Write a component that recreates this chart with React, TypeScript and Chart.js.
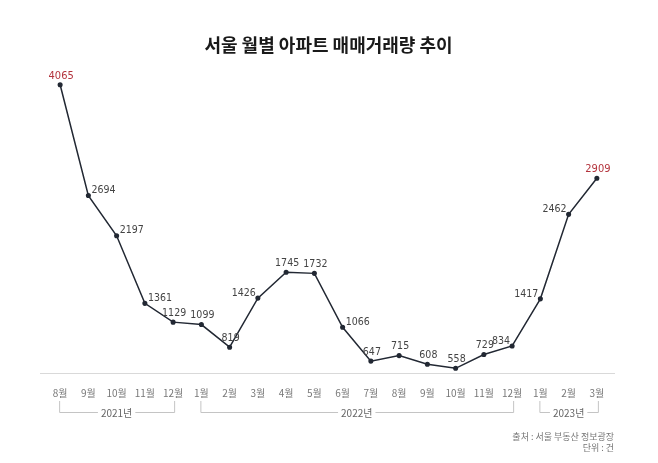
import React, { useEffect, useRef } from "react";
import { Chart, registerables } from "chart.js";

Chart.register(...registerables);

const titleText = "서울 월별 아파트 매매거래량 추이";
const months = ["8월","9월","10월","11월","12월","1월","2월","3월","4월","5월","6월","7월","8월","9월","10월","11월","12월","1월","2월","3월"];
const years = ["2021년","2021년","2021년","2021년","2021년","2022년","2022년","2022년","2022년","2022년","2022년","2022년","2022년","2022년","2022년","2022년","2022년","2023년","2023년","2023년"];
const volumes = [4065, 2694, 2197, 1361, 1129, 1099, 819, 1426, 1745, 1732, 1066, 647, 715, 608, 558, 729, 834, 1417, 2462, 2909];
const sourceLines = ["출처 : 서울 부동산 정보광장", "단위 : 건"];

const FONT = "'Noto Sans CJK KR', 'Noto Sans', sans-serif";
const NUMFONT = "'DejaVu Sans Condensed', 'Noto Sans CJK KR', sans-serif";

// label placement: a = above, r = right, l = left
const placement = ["a","r","r","r","a","a","a","l","a","a","r","a","a","a","a","a","l","l","l","a"];

const overlay = {
  id: "overlay",
  afterDatasetsDraw(chart: any) {
    const ctx = chart.ctx;
    const xs = chart.scales.x;
    const area = chart.chartArea;
    const meta = chart.getDatasetMeta(0);
    ctx.save();
    // axis line
    ctx.strokeStyle = "#d9d9d9";
    ctx.lineWidth = 1.2;
    ctx.beginPath();
    ctx.moveTo(area.left - 6, area.bottom + 0.5);
    ctx.lineTo(area.right + 4, area.bottom + 0.5);
    ctx.stroke();

    // data labels
    const last = volumes.length - 1;
    meta.data.forEach((pt: any, i: number) => {
      const v = volumes[i];
      const hi = i === 0 || i === last;
      ctx.font = `${hi ? 11 : 10.5}px ${NUMFONT}`;
      ctx.fillStyle = hi ? "#b3333c" : "#444";
      ctx.textBaseline = "middle";
      const p = placement[i];
      if (p === "a") {
        ctx.textAlign = "center";
        ctx.fillText(String(v), pt.x + 1, pt.y - 9);
      } else if (p === "r") {
        ctx.textAlign = "left";
        ctx.fillText(String(v), pt.x + 3, pt.y - 5);
      } else {
        ctx.textAlign = "right";
        ctx.fillText(String(v), pt.x - 2, pt.y - 5);
      }
    });

    // year brackets
    const groups: { label: string; s: number; e: number }[] = [];
    years.forEach((y, i) => {
      const g = groups[groups.length - 1];
      if (g && g.label === y) g.e = i;
      else groups.push({ label: y, s: i, e: i });
    });
    const yTop = area.bottom + 28;
    const yLine = area.bottom + 39;
    groups.forEach((g) => {
      const x1 = xs.getPixelForValue(g.s) - 1;
      const x2 = xs.getPixelForValue(g.e) + 1;
      ctx.strokeStyle = "#c4c4c4";
      ctx.lineWidth = 1;
      ctx.beginPath();
      ctx.moveTo(x1 + 0.5, yTop);
      ctx.lineTo(x1 + 0.5, yLine + 0.5);
      ctx.lineTo(x2 + 0.5, yLine + 0.5);
      ctx.lineTo(x2 + 0.5, yTop);
      ctx.stroke();
      const cx = (x1 + x2) / 2;
      ctx.font = `10px ${FONT}`;
      const w = ctx.measureText(g.label).width;
      ctx.fillStyle = "#fff";
      ctx.fillRect(cx - w / 2 - 3, yLine - 5, w + 6, 10);
      ctx.fillStyle = "#666";
      ctx.textAlign = "center";
      ctx.textBaseline = "middle";
      ctx.fillText(g.label, cx, yLine + 1);
    });

    // source
    ctx.font = `9px ${FONT}`;
    ctx.fillStyle = "#777";
    ctx.textAlign = "right";
    ctx.textBaseline = "middle";
    sourceLines.forEach((t, i) => {
      ctx.fillText(t, area.right + 3, area.bottom + 64 + i * 11);
    });
    ctx.restore();
  },
};

export default function App() {
  const ref = useRef<HTMLCanvasElement>(null);
  useEffect(() => {
    document.body.style.margin = "0";
    const chart = new Chart(ref.current!, {
      type: "line",
      data: {
        labels: months,
        datasets: [
          {
            data: volumes,
            borderColor: "#222833",
            backgroundColor: "#222833",
            borderWidth: 1.5,
            pointRadius: 1.8,
            pointHoverRadius: 1.8,
            pointBackgroundColor: "#222833",
            tension: 0,
          },
        ],
      },
      options: {
        animation: false,
        responsive: false,
        layout: { padding: { left: 46, right: 47, top: 0, bottom: 50 } },
        plugins: {
          legend: { display: false },
          tooltip: { enabled: false },
          title: {
            display: true,
            text: titleText,
            color: "#1a1a1a",
            font: { family: FONT, size: 18, weight: "bold" },
            padding: { top: 34, bottom: 2 },
          },
        },
        scales: {
          x: {
            offset: true,
            grid: { display: false, drawTicks: false },
            border: { display: false },
            ticks: {
              color: "#777",
              font: { family: FONT, size: 10 },
              padding: 14,
              autoSkip: false,
              maxRotation: 0,
            },
          },
          y: {
            display: false,
            min: 500,
            max: 4400,
          },
        },
      },
      plugins: [overlay],
    });
    return () => chart.destroy();
  }, []);
  return <canvas ref={ref} width={658} height={463} style={{ display: "block" }} />;
}
